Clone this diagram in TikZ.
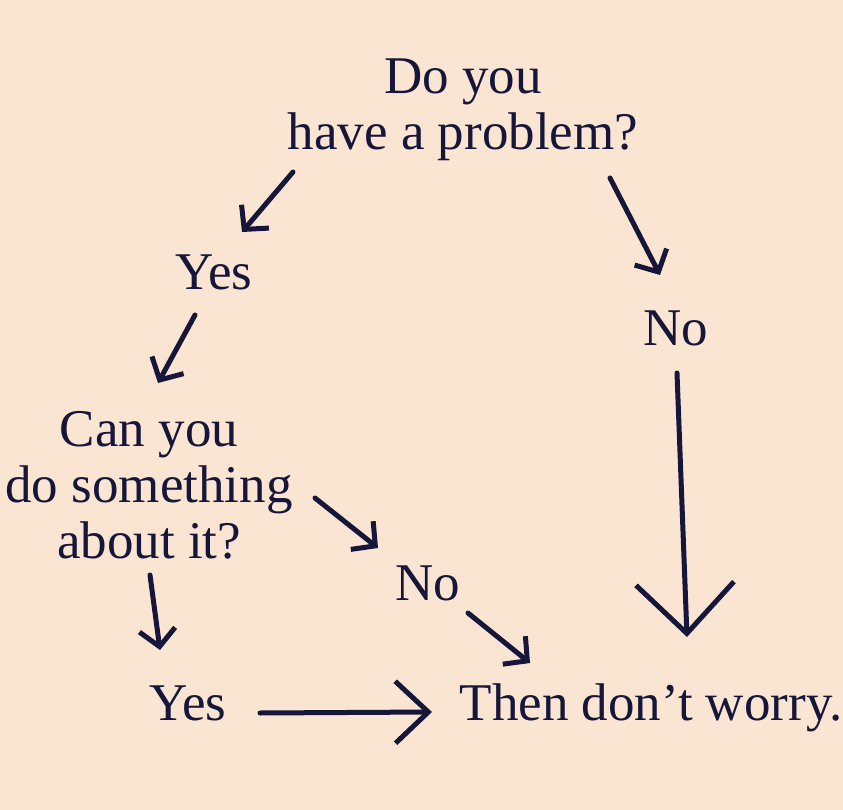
\documentclass[tikz,border=0pt]{standalone}
\usepackage{fontspec}
\setmainfont{Liberation Serif}
\usepackage{xcolor}
\usepackage{tikz}
\usetikzlibrary{arrows.meta, calc, positioning}

\definecolor{paper}{RGB}{250,228,210}
\definecolor{ink}{RGB}{22,22,58}

\tikzset{
  word/.style={ink, inner sep=0pt, anchor=base, align=center,
    font=\fontsize{53}{56}\selectfont},
  arr/.style={ink, line width=5pt, line cap=round,
    -{Straight Barb[length=17pt, width=36pt, line join=miter]}},
  bigarr/.style={ink, line width=5pt, line cap=round,
    -{Straight Barb[length=50pt, width=98pt]}},
  midarr/.style={ink, line width=5pt, line cap=round,
    -{Straight Barb[length=33pt, width=62pt]}}
}

\begin{document}
\begin{tikzpicture}[x=1pt, y=-1pt]

% Background
\fill[paper] (0,0) rectangle (843,810);
\useasboundingbox (0,0) rectangle (843,810);

% Texts (base = last line)
\node[word] (problem) at (463,150) {Do you\\have a problem?};
\node[word] (yesA) at (214,290) {Yes};
\node[word] (noA) at (676,345) {No};
\node[word] (cando) at (149,558) {Can you\\do something\\about it?};
\node[word] (noB) at (428,600) {No};
\node[word] (yesB) at (188,720) {Yes};
\node[word] (worry) at (651,720) {Then don’t worry.};

% Arrow ends
\coordinate (p1) at (293,172); \coordinate (p2) at (242,232);
\coordinate (p3) at (610,178); \coordinate (p4) at (660,275);
\coordinate (y1) at (195,315); \coordinate (y2) at (158,383);
\coordinate (n1) at (677,373); \coordinate (n2) at (687,637);
\coordinate (c1) at (150,575); \coordinate (c2) at (160,650);
\coordinate (c3) at (315,498); \coordinate (c4) at (378,548);
\coordinate (m1) at (468,613); \coordinate (m2) at (530,663);
\coordinate (b1) at (260,713); \coordinate (b2) at (432,712);

% Arrows
\draw[arr] (p1) -- (p2);
\draw[arr] (p3) -- (p4);
\draw[arr] (y1) -- (y2);
\draw[bigarr] (n1) -- (n2);
\draw[arr] (c1) -- (c2);
\draw[arr] (c3) -- (c4);
\draw[arr] (m1) -- (m2);
\draw[midarr] (b1) -- (b2);

\end{tikzpicture}
\end{document}
